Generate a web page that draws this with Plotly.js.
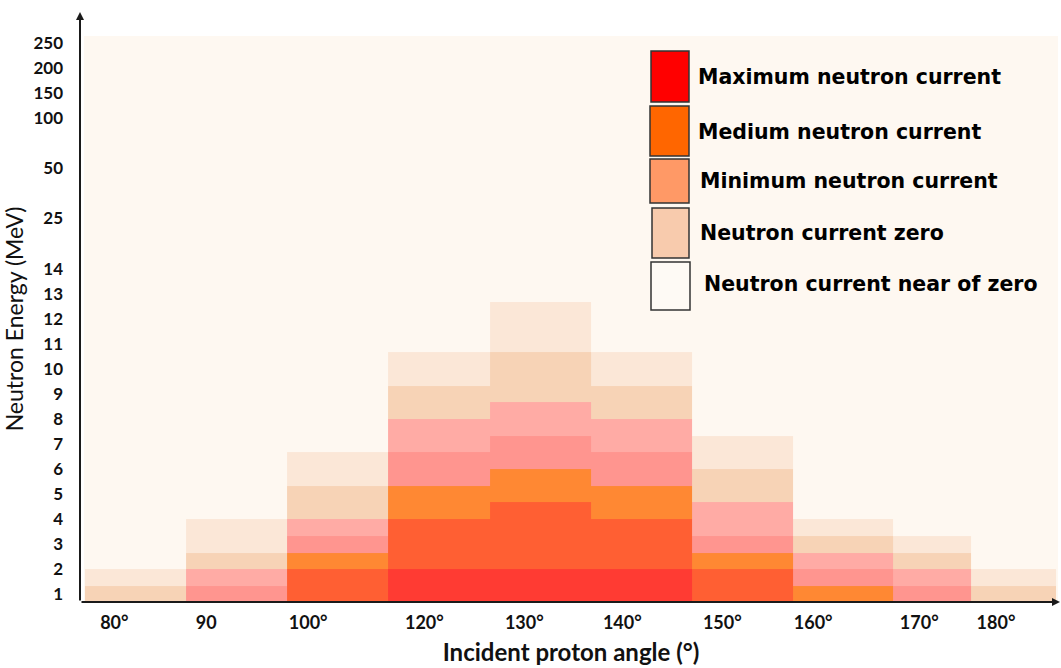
<!DOCTYPE html>
<html>
<head>
<meta charset="utf-8">
<script src="https://cdn.plot.ly/plotly-3.0.1.min.js"></script>
<style>html,body{margin:0;padding:0;background:#fff;}#chart{width:1061px;height:668px;}</style>
</head>
<body>
<div id="chart"></div>
<script>
// ---- data ----
const angleLabels = ['80°', '90', '100°', '120°', '130°', '140°', '150°', '160°', '170°', '180°'];
const angleTickPos = [0.29, 1.20, 2.21, 3.36, 4.35, 5.32, 6.31, 7.21, 8.26, 9.02];
const columnEdges = [0, 1, 2, 3, 4.01, 5.01, 6.01, 7.01, 8, 8.77, 9.61];

const energyLabels = ['1','2','3','4','5','6','7','8','9','10','11','12','13','14','25','50','100','150','200','250'];
const energyTickPos = [0.5, 2, 3.5, 5, 6.5, 8, 9.5, 11, 12.5, 14, 15.5, 17, 18.5, 20, 23, 26, 29, 30.5, 32, 33.5];

// current level of each cell, bottom to top (1 = lightest ... 7 = strongest)
const col80  = [2, 1];
const col90  = [4, 3, 2, 1, 1];
const col100 = [6, 6, 5, 4, 3, 2, 2, 1, 1];
const col120 = [7, 7, 6, 6, 6, 5, 5, 4, 4, 3, 3, 2, 2, 1, 1];
const col130 = [7, 7, 6, 6, 6, 6, 5, 5, 4, 4, 3, 3, 2, 2, 2, 1, 1, 1];
const col140 = [7, 7, 6, 6, 6, 5, 5, 4, 4, 3, 3, 2, 2, 1, 1];
const col150 = [6, 6, 5, 4, 3, 3, 2, 2, 1, 1];
const col160 = [5, 4, 3, 2, 1];
const col170 = [4, 3, 2, 1];
const col180 = [2, 1];
const levelColors = ['#FBE7D7', '#F7D3B6', '#FFABA5', '#FF958F', '#FF8833', '#FF5F33', '#FF3B33'];

const legendLabels = ['Maximum neutron current', 'Medium neutron current', 'Minimum neutron current', 'Neutron current zero', 'Neutron current near of zero'];
const legendColors = ['#FF0000', '#FF6600', '#FF9966', '#F8CBAD', '#FEFAF5'];

// ---- build ----
const columns = [col80, col90, col100, col120, col130, col140, col150, col160, col170, col180];
const nRows = Math.max(...columns.map(c => c.length));
const rowEdges = [];
for (let i = 0; i <= nRows; i++) rowEdges.push(i);
const z = [];
for (let r = 0; r < nRows; r++) {
  z.push(columns.map(c => (r < c.length ? c[r] : null)));
}
const nLev = levelColors.length;
const colorscale = [];
levelColors.forEach((c, i) => { colorscale.push([i / nLev, c]); colorscale.push([(i + 1) / nLev, c]); });

const trace = {
  type: 'heatmap', x: columnEdges, y: rowEdges, z: z,
  zmin: 0.5, zmax: nLev + 0.5, colorscale: colorscale, showscale: false,
  hoverinfo: 'skip', xgap: 0, ygap: 0
};

const L = 84, R = 3, T = 36, B = 66, W = 1061, H = 668;
const pw = W - L - R, ph = H - T - B;
const px = p => (p - L) / pw;
const py = p => (H - B - p) / ph;

const shapes = [];
const annotations = [];
// legend swatches
const sw = [[651, 689, 51, 102], [650, 689, 106, 156], [650, 689, 159, 203], [652, 689, 208, 258], [651, 690, 262, 310]];
const txt = [[696, 77], [696, 132], [698, 181], [698, 233], [702, 284]];
legendLabels.forEach((lab, i) => {
  shapes.push({type: 'rect', xref: 'paper', yref: 'paper', x0: px(sw[i][0]), x1: px(sw[i][1]), y0: py(sw[i][3]), y1: py(sw[i][2]),
    fillcolor: legendColors[i], line: {color: '#333', width: 1.5}, layer: 'above'});
  annotations.push({xref: 'paper', yref: 'paper', x: px(txt[i][0]), y: py(txt[i][1]), xanchor: 'left', yanchor: 'middle',
    text: lab, showarrow: false, font: {family: 'DejaVu Sans', size: 20.5, color: '#000', weight: 'bold'}});
});
// axes with arrows
annotations.push({xref: 'paper', yref: 'paper', x: px(1060), y: py(602), ax: -980, ay: 0, text: '', showarrow: true,
  arrowhead: 2, arrowsize: 0.8, arrowwidth: 2, arrowcolor: '#1a1a1a'});
annotations.push({xref: 'paper', yref: 'paper', x: px(80), y: py(12), ax: 0, ay: 590, text: '', showarrow: true,
  arrowhead: 2, arrowsize: 0.8, arrowwidth: 2, arrowcolor: '#1a1a1a'});

const layout = {
  width: W, height: H,
  margin: {l: L, r: R, t: T, b: B},
  paper_bgcolor: '#ffffff', plot_bgcolor: '#FEF8F1',
  showlegend: false,
  xaxis: {
    range: [-0.01, 9.634], showgrid: false, zeroline: false, showline: false, ticks: '',
    tickvals: angleTickPos, ticktext: angleLabels, ticklabelstandoff: 8,
    tickfont: {family: 'Lato', size: 18, color: '#111', weight: 'bold'},
    title: {text: 'Incident proton angle (°)', standoff: 12, font: {family: 'Lato', size: 24, color: '#111', weight: 'bold'}}
  },
  yaxis: {
    range: [0.04, 33.93], showgrid: false, zeroline: false, showline: false, ticks: '',
    tickvals: energyTickPos, ticktext: energyLabels, ticklabelstandoff: 20,
    tickfont: {family: 'Lato', size: 17, color: '#111', weight: 'bold'},
    title: {text: 'Neutron Energy (MeV)', standoff: 4, font: {family: 'Lato', size: 23, color: '#111'}}
  },
  shapes: shapes,
  annotations: annotations
};

Plotly.newPlot('chart', [trace], layout, {displayModeBar: false, staticPlot: true});
</script>
</body>
</html>
